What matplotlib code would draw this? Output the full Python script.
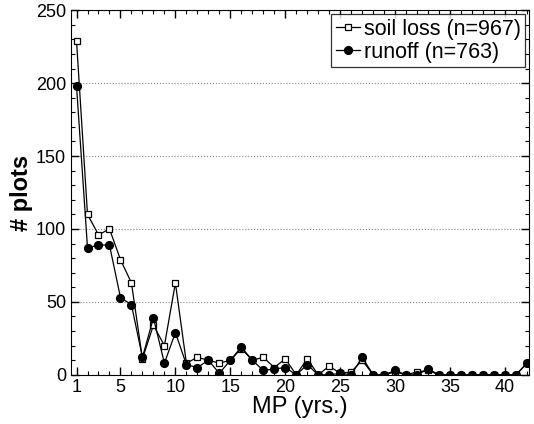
import numpy as np
import matplotlib.pyplot as plt
from matplotlib.ticker import MultipleLocator, FixedLocator

plt.rcParams['font.family'] = ['Liberation Sans', 'DejaVu Sans']

mp = np.arange(1, 43)
soil_loss = [229, 110, 96, 100, 79, 63, 11, 34, 20, 63,
             8, 12, 10, 8, 10, 18, 10, 12, 5, 11,
             0, 11, 0, 6, 1, 2, 10, 0, 0, 2,
             0, 2, 3, 0, 0, 0, 0, 0, 0, 0,
             0, 8]
runoff = [198, 87, 89, 89, 53, 48, 12, 39, 8, 29,
          7, 5, 10, 1, 10, 19, 10, 3, 4, 5,
          0, 7, 0, 0, 1, 0, 12, 0, 0, 3,
          0, 0, 4, 0, 0, 0, 0, 0, 0, 0,
          0, 8]

fig = plt.figure(figsize=(5.34, 4.24), dpi=100)
ax = fig.add_axes([0.133, 0.116, 0.858, 0.86])

ax.plot(mp, soil_loss, '-s', color='black', lw=0.9, ms=4.6,
        mfc='white', mec='black', mew=0.9, label='soil loss (n=967)')
ax.plot(mp, runoff, '-o', color='black', lw=0.9, ms=5.6,
        mfc='black', mec='black', label='runoff (n=763)')

ax.set_xlim(0.5, 42.2)
ax.set_ylim(0, 250)
ax.xaxis.set_major_locator(FixedLocator([1, 5, 10, 15, 20, 25, 30, 35, 40]))
ax.xaxis.set_minor_locator(MultipleLocator(1))
ax.yaxis.set_major_locator(MultipleLocator(50))
ax.yaxis.set_minor_locator(MultipleLocator(10))
ax.tick_params(which='both', direction='in', top=True, right=True, labelsize=13)
ax.tick_params(which='major', length=6, width=1)
ax.tick_params(which='minor', length=3, width=0.8)
ax.tick_params(axis='x', pad=3)

ax.grid(axis='y', which='major', ls=':', color='#888888', lw=0.8)
ax.set_axisbelow(True)

ax.set_xlabel('MP (yrs.)', fontsize=17, labelpad=0)
ax.set_ylabel('# plots', fontsize=17, fontweight='bold', labelpad=2)

leg = ax.legend(loc='upper right', fontsize=15.5, frameon=True, fancybox=False,
                edgecolor='black', handlelength=1.15, handletextpad=0.15,
                borderpad=0.2, labelspacing=0.1, borderaxespad=0.2)
leg.get_frame().set_linewidth(0.9)

fig.savefig('out.png', dpi=100)
